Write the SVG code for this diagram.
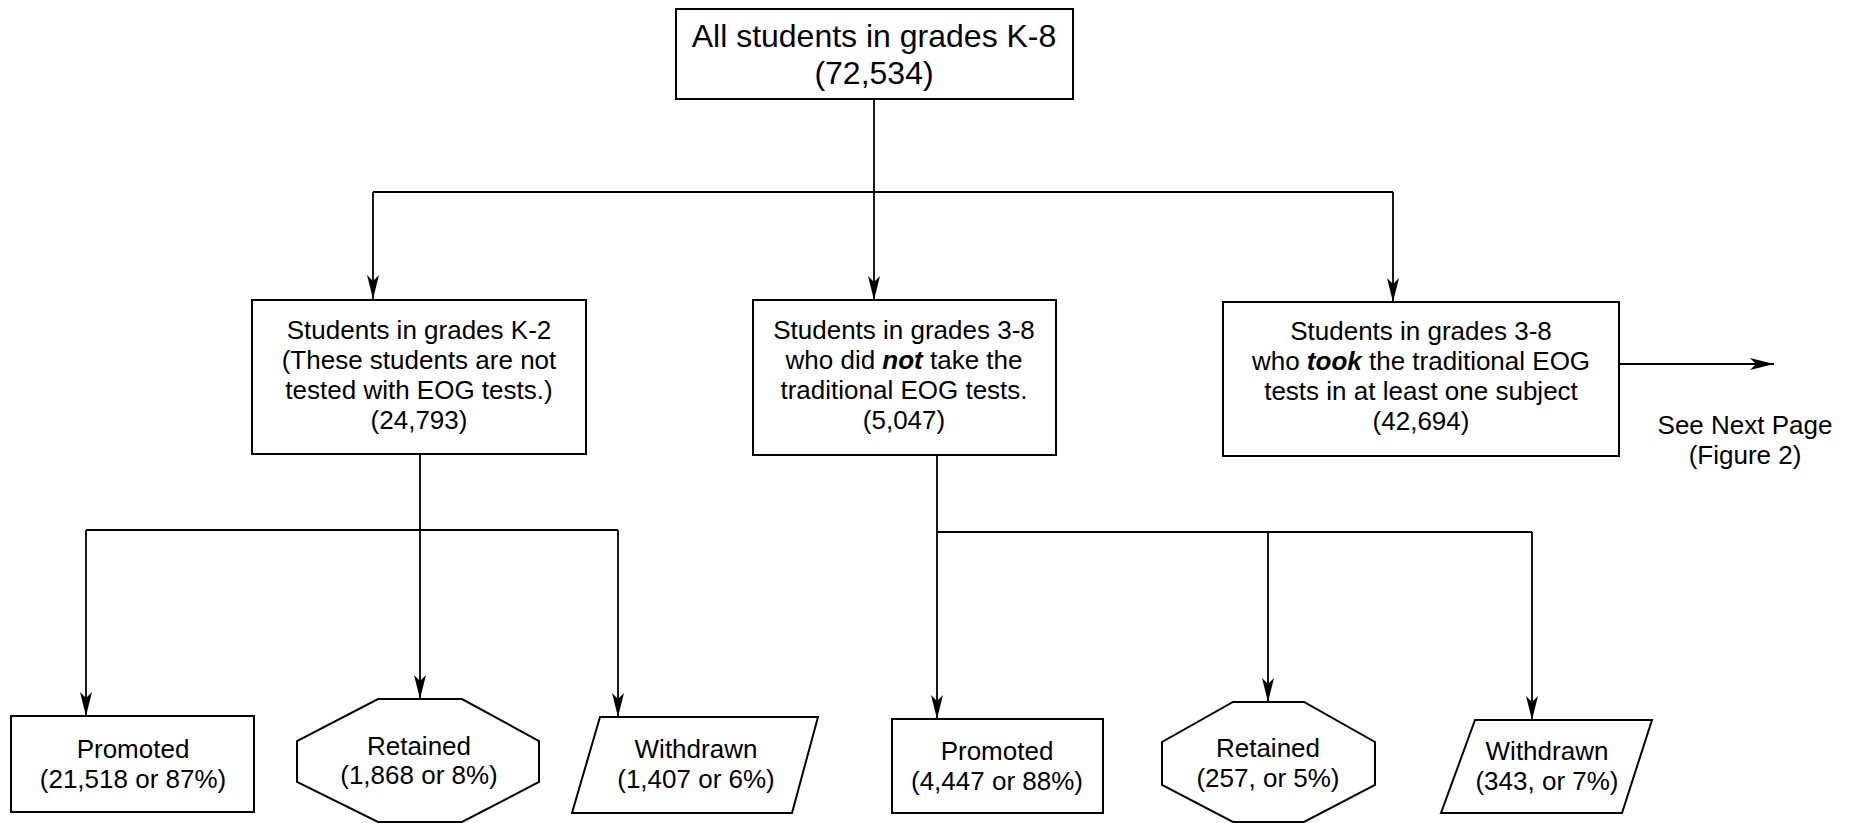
<svg xmlns="http://www.w3.org/2000/svg" width="1850" height="823" viewBox="0 0 1850 823">
<defs>
<marker id="arr" markerUnits="userSpaceOnUse" markerWidth="26" markerHeight="14" refX="24" refY="7" orient="auto">
<path d="M0,1 L24,7 L0,13 L6,7 Z" fill="#000"/>
</marker>
</defs>
<style>
.node{fill:#fff;stroke:#000;stroke-width:2}
.conn{fill:none;stroke:#000;stroke-width:1.8}
text{font-family:"Liberation Sans",Arial,Helvetica,sans-serif;fill:#000;text-anchor:middle}
.t1{font-size:32px}
.t2{font-size:26px}
.bi{font-weight:bold;font-style:italic}
</style>
<rect width="1850" height="823" fill="#fff"/>
<g id="connectors">
<path class="conn" d="M874,99 V300" marker-end="url(#arr)"/>
<path class="conn" d="M373,192 H1393"/>
<path class="conn" d="M373,192 V299" marker-end="url(#arr)"/>
<path class="conn" d="M1393,192 V302" marker-end="url(#arr)"/>
<path class="conn" d="M1620,364 H1774" marker-end="url(#arr)"/>
<path class="conn" d="M420,454 V699" marker-end="url(#arr)"/>
<path class="conn" d="M86,530 H618"/>
<path class="conn" d="M86,530 V716" marker-end="url(#arr)"/>
<path class="conn" d="M618,530 V717" marker-end="url(#arr)"/>
<path class="conn" d="M937,455 V719" marker-end="url(#arr)"/>
<path class="conn" d="M937,532 H1532"/>
<path class="conn" d="M1268,532 V702" marker-end="url(#arr)"/>
<path class="conn" d="M1532,532 V720" marker-end="url(#arr)"/>
</g>
<g id="all">
<rect class="node" x="676" y="9" width="397" height="90"/>
<text class="t1" x="874" y="47">All students in grades K-8</text>
<text class="t1" x="874" y="84">(72,534)</text>
</g>
<g id="k2">
<rect class="node" x="252" y="300" width="334" height="154"/>
<text class="t2" x="419" y="339">Students in grades K-2</text>
<text class="t2" x="419" y="369">(These students are not</text>
<text class="t2" x="419" y="399">tested with EOG tests.)</text>
<text class="t2" x="419" y="429">(24,793)</text>
</g>
<g id="g38not">
<rect class="node" x="753" y="300" width="303" height="155"/>
<text class="t2" x="904" y="339">Students in grades 3-8</text>
<text class="t2" x="904" y="369">who did <tspan class="bi">not</tspan> take the</text>
<text class="t2" x="904" y="399">traditional EOG tests.</text>
<text class="t2" x="904" y="429">(5,047)</text>
</g>
<g id="g38took">
<rect class="node" x="1223" y="302" width="396" height="154"/>
<text class="t2" x="1421" y="340">Students in grades 3-8</text>
<text class="t2" x="1421" y="370">who <tspan class="bi">took</tspan> the traditional EOG</text>
<text class="t2" x="1421" y="400">tests in at least one subject</text>
<text class="t2" x="1421" y="430">(42,694)</text>
</g>
<g id="nextpage">
<text class="t2" x="1745" y="434">See Next Page</text>
<text class="t2" x="1745" y="464">(Figure 2)</text>
</g>
<g id="promoted1">
<rect class="node" x="11" y="716" width="243" height="96"/>
<text class="t2" x="133" y="758">Promoted</text>
<text class="t2" x="133" y="788">(21,518 or 87%)</text>
</g>
<g id="retained1">
<polygon class="node" points="378,699 462,699 539,741 539,782 462,822 378,822 297,782 297,741"/>
<text class="t2" x="419" y="755">Retained</text>
<text class="t2" x="419" y="784">(1,868 or 8%)</text>
</g>
<g id="withdrawn1">
<polygon class="node" points="600,717 818,717 792,813 572,813"/>
<text class="t2" x="696" y="758">Withdrawn</text>
<text class="t2" x="696" y="788">(1,407 or 6%)</text>
</g>
<g id="promoted2">
<rect class="node" x="892" y="719" width="211" height="94"/>
<text class="t2" x="997" y="760">Promoted</text>
<text class="t2" x="997" y="790">(4,447 or 88%)</text>
</g>
<g id="retained2">
<polygon class="node" points="1233,702 1304,702 1375,742 1375,785 1304,822 1233,822 1162,785 1162,742"/>
<text class="t2" x="1268" y="757">Retained</text>
<text class="t2" x="1268" y="787">(257, or 5%)</text>
</g>
<g id="withdrawn2">
<polygon class="node" points="1475,720 1652,720 1622,813 1441,813"/>
<text class="t2" x="1547" y="760">Withdrawn</text>
<text class="t2" x="1547" y="790">(343, or 7%)</text>
</g>
</svg>
